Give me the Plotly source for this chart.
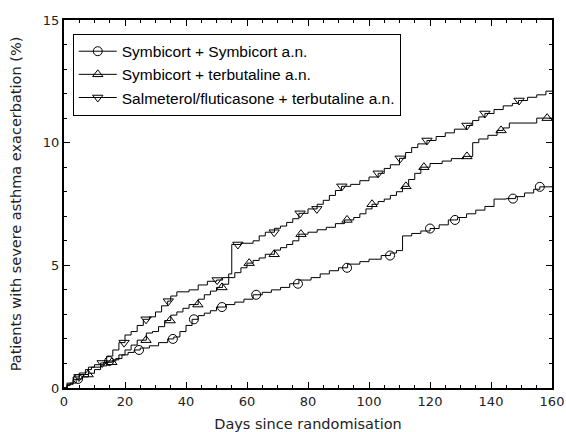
import numpy as np
import plotly.graph_objects as go

# ---- data ----
names = ["Symbicort + Symbicort a.n.",
         "Symbicort + terbutaline a.n.",
         "Salmeterol/fluticasone + terbutaline a.n."]

ss_days = [0, 1, 2, 4, 6, 8, 10, 12, 14, 17, 19, 21, 23, 25, 28, 31, 34, 36, 38, 40, 42, 44, 46, 48, 50,
           53, 56, 59, 62, 65, 68, 71, 74, 77, 81, 84, 87, 90, 93, 97, 100, 104, 107, 109, 111, 114, 117,
           120, 123, 126, 129, 132, 135, 138, 141, 145, 148, 151, 154, 156, 160]
ss_pct = [0, 0.1, 0.2, 0.37, 0.45, 0.6, 0.75, 0.9, 1.1, 1.2, 1.35, 1.45, 1.55, 1.63, 1.72, 1.85, 2.0, 2.08,
          2.3, 2.55, 2.8, 2.95, 3.05, 3.15, 3.3, 3.4, 3.5, 3.62, 3.8, 3.9, 4.0, 4.1, 4.25, 4.4, 4.5, 4.65,
          4.78, 4.9, 5.05, 5.15, 5.25, 5.4, 5.5, 5.6, 6.2, 6.3, 6.4, 6.5, 6.65, 6.85, 6.95, 7.1, 7.25, 7.4,
          7.7, 7.72, 7.8, 7.95, 8.1, 8.2, 8.2]
ss_mark_days = [4.6, 14.8, 24.6, 35.7, 42.6, 51.8, 63, 76.7, 92.8, 106.9, 120, 128.2, 147.2, 156]

st_days = [0, 1, 3, 5, 8, 10, 13, 16, 18, 20, 22, 24, 27, 29, 31, 33, 35, 37, 39, 41, 44, 46, 48, 50, 52,
           54, 56, 58, 60, 62, 64, 66, 69, 71, 73, 75, 77, 80, 83, 86, 89, 92, 95, 97, 99, 101, 103, 105,
           107, 109, 111, 113, 115, 117, 120, 124, 127, 131, 134, 136, 139, 142, 144, 146, 155, 160]
st_pct = [0, 0.15, 0.35, 0.55, 0.85, 0.95, 1.05, 1.15, 1.35, 1.55, 1.75, 1.95, 2.24, 2.3, 2.5, 2.75, 2.97,
          3.1, 3.25, 3.4, 3.62, 3.8, 3.95, 4.1, 4.23, 4.5, 4.7, 4.9, 5.09, 5.2, 5.3, 5.45, 5.62, 5.72, 5.85,
          6.0, 6.27, 6.35, 6.45, 6.55, 6.7, 6.85, 6.95, 7.1, 7.3, 7.49, 7.6, 7.7, 7.85, 8.0, 8.22, 8.5,
          8.75, 9.0, 9.15, 9.25, 9.35, 9.44, 10.0, 10.15, 10.3, 10.5, 10.6, 10.8, 11.0, 11.0]
st_mark_days = [7.9, 15.7, 26.9, 34.8, 43.9, 51.8, 60.7, 68.9, 77.7, 92.8, 101, 112.1, 118, 132.1, 143.3,
                158.4]

sf_days = [0, 1, 3, 5, 7, 9, 12, 14, 16, 18, 20, 22, 24, 26, 28, 30, 32, 34, 35, 37, 41, 44, 47, 50, 52,
           54, 55, 58, 62, 64, 66, 69, 71, 73, 75, 77, 80, 83, 85, 87, 89, 91, 94, 97, 100, 103, 105, 107,
           110, 112, 114, 116, 119, 122, 125, 128, 132, 134, 136, 138, 141, 144, 147, 149, 152, 155, 158, 160]
sf_pct = [0, 0.2, 0.45, 0.61, 0.75, 0.85, 1.02, 1.3, 1.55, 1.85, 2.16, 2.3, 2.55, 2.8, 2.9, 3.1, 3.35,
          3.54, 3.75, 3.92, 4.0, 4.2, 4.35, 4.4, 4.5, 4.65, 5.85, 5.9, 6.0, 6.2, 6.35, 6.51, 6.6, 6.75, 6.9,
          7.12, 7.3, 7.49, 7.65, 7.85, 8.05, 8.22, 8.3, 8.45, 8.6, 8.75, 8.95, 9.1, 9.36, 9.6, 9.8, 9.95,
          10.09, 10.25, 10.4, 10.55, 10.7, 10.9, 11.05, 11.19, 11.35, 11.5, 11.6, 11.72, 11.85, 11.95,
          12.1, 12.1]
sf_mark_days = [4.9, 12.5, 19.7, 26.9, 34.2, 50.2, 57, 68.9, 77.4, 82.9, 91.1, 103, 110.2, 119, 132.1,
                138, 149.2]

x_ticks = [0, 20, 40, 60, 80, 100, 120, 140, 160]
y_ticks = [0, 5, 10, 15]

series = [
    (names[0], ss_days, ss_pct, ss_mark_days, "circle-open"),
    (names[1], st_days, st_pct, st_mark_days, "triangle-up-open"),
    (names[2], sf_days, sf_pct, sf_mark_days, "triangle-down-open"),
]


def step_value(days, pct, d):
    i = np.searchsorted(np.asarray(days), d, side="right") - 1
    return float(np.asarray(pct)[max(i, 0)])


fig = go.Figure()
for name, days, pct, mdays, sym in series:
    fig.add_trace(go.Scatter(x=days, y=pct, mode="lines", line=dict(color="black", width=1, shape="hv"),
                             showlegend=False, hoverinfo="skip"))
    fig.add_trace(go.Scatter(x=mdays, y=[step_value(days, pct, d) for d in mdays], mode="markers",
                             marker=dict(symbol=sym, size=9, color="black", line=dict(width=1, color="black")),
                             showlegend=False))
    fig.add_trace(go.Scatter(x=[None], y=[None], mode="lines+markers", name=name,
                             line=dict(color="black", width=1),
                             marker=dict(symbol=sym, size=9, color="black", line=dict(width=1, color="black"))))

tick_font = dict(family="DejaVu Sans", size=13, color="#222")
title_font = dict(family="DejaVu Sans", size=14.5, color="#222")
fig.update_layout(
    width=566, height=432,
    margin=dict(l=64, r=14, t=20, b=44),
    paper_bgcolor="white", plot_bgcolor="white",
    font=tick_font,
    legend=dict(x=0.018, y=0.963, xanchor="left", yanchor="top",
                bordercolor="black", borderwidth=1, bgcolor="white",
                font=dict(family="Liberation Sans", size=15.5, color="black"),
                itemwidth=38, tracegroupgap=0),
    xaxis=dict(range=[0, 160], tickvals=x_ticks, ticks="inside", ticklen=6, tickwidth=1, tickcolor="black",
               showline=True, linecolor="black", linewidth=2, mirror="allticks", showgrid=False,
               zeroline=False, minor=dict(dtick=5, ticks="inside", ticklen=3, tickcolor="black"),
               title=dict(text="Days since randomisation", font=title_font, standoff=14),
               tickfont=tick_font, automargin=False, ticklabeloverflow="allow"),
    yaxis=dict(range=[0, 15], tickvals=y_ticks, ticks="inside", ticklen=6, tickwidth=1, tickcolor="black",
               showline=True, linecolor="black", linewidth=2, mirror="allticks", showgrid=False,
               zeroline=False, minor=dict(dtick=1, ticks="inside", ticklen=3, tickcolor="black"),
               title=dict(text="Patients with severe asthma exacerbation (%)", font=title_font, standoff=18),
               tickfont=tick_font, automargin=False, ticklabeloverflow="allow"),
)

fig.write_html("out.html", config={"displayModeBar": False},
               post_script="document.body.style.margin='0';document.body.style.overflow='hidden';")
